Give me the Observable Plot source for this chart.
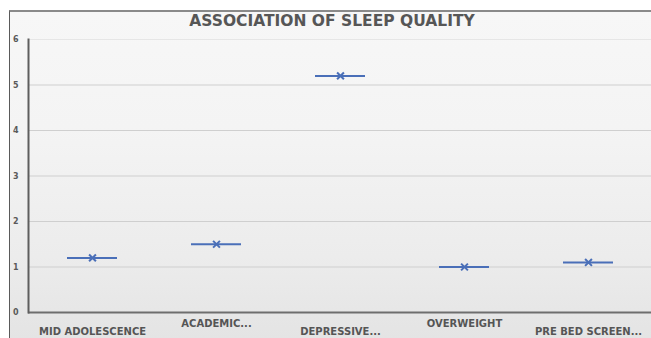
<!DOCTYPE html>
<html>
<head>
<meta charset="utf-8">
<script src="https://cdn.jsdelivr.net/npm/d3@7"></script>
<script src="https://cdn.jsdelivr.net/npm/@observablehq/plot@0.6"></script>
<style>
  html, body { margin: 0; padding: 0; background: #ffffff; }
  #wrap { position: relative; width: 651px; height: 338px; overflow: hidden; font-family: "DejaVu Sans", sans-serif; }
  #frame { position: absolute; left: 9px; top: 10px; width: 642px; height: 328px;
    border-left: 1px solid #5a5a5a; border-top: 2px solid #8a8a8a; box-sizing: border-box;
    background: linear-gradient(to bottom, #f7f7f7 0%, #f4f4f4 35%, #ececec 75%, #e4e4e4 100%); }
  #title { position: absolute; left: 0; top: 12px; width: 664px; text-align: center;
    font-weight: bold; font-size: 15.5px; color: #565656; }
  #chart { position: absolute; left: 0; top: 0; }
  #chart svg { background: transparent !important; }
</style>
</head>
<body>
<div id="wrap">
  <div id="frame"></div>
  <div id="chart"></div>
  <div id="title">ASSOCIATION OF SLEEP QUALITY</div>
</div>
<script>
const categories = ["MID ADOLESCENCE", "ACADEMIC...", "DEPRESSIVE...", "OVERWEIGHT", "PRE BED SCREEN..."];
const values = [1.2, 1.5, 5.2, 1.0, 1.1];
const yTicks = [0, 1, 2, 3, 4, 5, 6];
const upperLabels = ["ACADEMIC...", "OVERWEIGHT"];
const lowerLabels = ["MID ADOLESCENCE", "DEPRESSIVE...", "PRE BED SCREEN..."];

const data = categories.map((c, i) => ({category: c, value: values[i]}));
const blue = "#4a6fb8";
const labelStyle = {tickSize: 0, fontSize: 10, fontWeight: "bold", fill: "#555", label: null};

const chart = Plot.plot({
  width: 651,
  height: 338,
  marginLeft: 28,
  marginRight: 0,
  marginTop: 39,
  marginBottom: 26,
  style: {background: "transparent", fontFamily: "DejaVu Sans, sans-serif"},
  x: {domain: categories, padding: 0},
  y: {domain: [0, 6]},
  marks: [
    Plot.gridY([1, 2, 3, 4, 5], {stroke: "#cfcfcf", strokeOpacity: 1, strokeWidth: 1}),
    Plot.gridY([6], {stroke: "#e6e6e6", strokeOpacity: 1, strokeWidth: 1}),
    Plot.ruleY([0], {stroke: "#6e6e6e", strokeWidth: 2}),
    Plot.frame({anchor: "left", stroke: "#5e5e5e", strokeWidth: 2}),
    Plot.axisY({ticks: yTicks, tickFormat: d => String(d), tickSize: 0, tickPadding: 10, fontSize: 8, fontWeight: "bold", fill: "#5a5a5a", label: null}),
    Plot.axisX({...labelStyle, ticks: upperLabels, tickPadding: 7}),
    Plot.axisX({...labelStyle, ticks: lowerLabels, tickPadding: 15}),
    Plot.tickY(data, {x: "category", y: "value", stroke: blue, strokeWidth: 2, insetLeft: 37, insetRight: 37}),
    Plot.dot(data, {x: "category", y: "value", symbol: "times", r: 3.2, stroke: blue, strokeWidth: 2})
  ]
});
document.getElementById("chart").appendChild(chart);
</script>
</body>
</html>
